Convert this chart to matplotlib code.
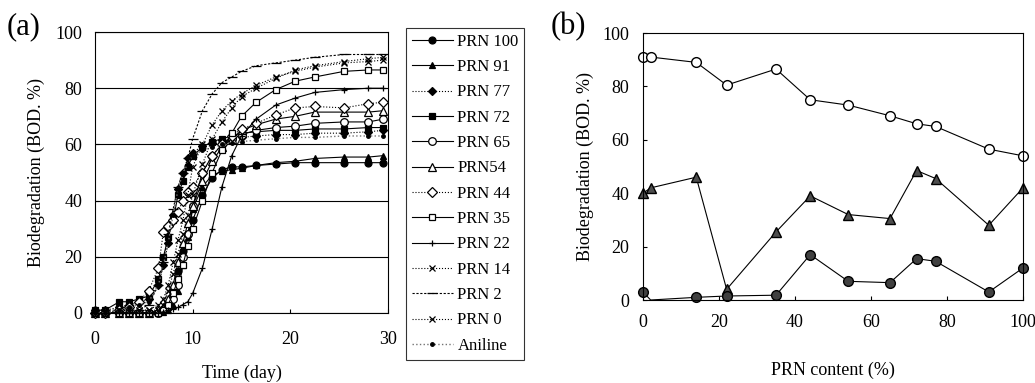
import numpy as np
import matplotlib
matplotlib.use('Agg')
import matplotlib.pyplot as plt

plt.rcParams['font.family'] = ['Liberation Serif', 'DejaVu Serif']
plt.rcParams['font.size'] = 13

# (a) 시간별 생분해도
days = [0, 1, 2.5, 3.5, 4.5, 5.5, 6.5, 7, 7.5, 8, 8.5, 9, 9.5, 10, 11, 12, 13,
        14, 15, 16.5, 18.5, 20.5, 22.5, 25.5, 28, 29.5]

prn100 = [0, 0, 0, 0, 0, 0, 0, 1, 3, 8, 15, 22, 28, 33, 42, 48, 51,
          52, 52, 52.5, 53, 53.5, 53.5, 53.5, 53.5, 53.5]
prn91 = [0, 0, 0, 0, 0, 0, 0, 0.5, 1, 3, 8, 17, 27, 37, 45, 49, 50.5,
         51, 51.5, 52.5, 53.5, 54, 55, 55.5, 55.5, 56]
prn77 = [1, 1, 2, 3, 4, 5, 10, 17, 25, 35, 44, 50, 55, 57, 59.5, 60.5, 61.5,
         62, 62.5, 63, 63.5, 63.5, 64, 64, 64.5, 65]
prn72 = [1, 1, 4, 4, 5, 6, 12, 20, 27, 33, 42, 47, 52, 56, 59, 61, 62,
         63, 64, 64.5, 65, 65, 65.5, 65.5, 66, 66]
prn65 = [0, 0, 0, 0, 0, 0, 0, 1, 2, 5, 10, 20, 28, 38, 50, 56, 60,
         62, 63.5, 65, 66, 66.5, 67.5, 68, 68, 69]
prn54 = [0, 0, 0, 0, 0, 0, 1, 2, 5, 10, 18, 25, 32, 38, 47, 54, 59,
         62, 65, 67, 69, 70, 71.5, 71.5, 71.5, 72]
prn44 = [0, 0, 1, 2, 4, 8, 16, 29, 31, 33, 36, 40, 43, 45, 50, 56, 60,
         63, 65.5, 67.5, 70.5, 73, 73.5, 73, 74.5, 75]
prn35 = [0, 0, 0, 0, 0, 0, 0, 1, 3, 7, 12, 17, 24, 30, 40, 50, 58,
         64, 70, 75, 79.5, 82.5, 84, 86, 86.5, 86.5]
prn22 = [0, 0, 0, 0, 0, 0, 0, 0.5, 1, 1.5, 2, 3, 4, 7, 16, 30, 45,
         56, 63, 69, 74, 76.5, 78.5, 79.5, 80, 80]
prn14 = [0, 0, 1, 1, 1, 1, 3, 5, 10, 18, 26, 33, 42, 52, 60, 67, 72,
         75.5, 78, 81, 84, 86, 87.5, 89, 89.5, 90]
prn2 = [0, 0, 0, 0, 1, 3, 10, 18, 28, 37, 45, 50, 55, 62, 72, 78, 82,
        84, 86, 88, 89, 90, 91, 92, 92, 92]
prn0 = [1, 1, 1, 1, 1, 1, 1, 3, 8, 14, 21, 28, 35, 42, 53, 62, 68,
        73, 77, 80, 83.5, 86.5, 88, 89.5, 90.5, 91]
aniline = [0, 0, 1, 2, 3, 4, 10, 17, 25, 35, 44, 50, 53, 56, 58, 59, 60,
           60.5, 61, 61.5, 62, 62.5, 62.5, 63, 63, 63]

# (b) PRN 함량별 생분해도
prn_content = [0, 2, 14, 22, 35, 44, 54, 65, 72, 77, 91, 100]
bod_open = [91, 91, 89, 80.5, 86.5, 75, 73, 69, 66, 65, 56.5, 54]
bod_tri = [40, 42, 46, 4, 25.5, 39, 32, 30.5, 48.5, 45.5, 28, 42]
bod_fill = [3, 0, 1, 1.5, 1.8, 17, 7, 6.5, 15.5, 14.5, 3, 12]

fig = plt.figure(figsize=(10.35, 3.83), dpi=100)
ax1 = fig.add_axes([0.0918, 0.1828, 0.2831, 0.7336])
ax2 = fig.add_axes([0.6213, 0.2167, 0.3671, 0.6971])

series = [
    (prn100, 'PRN 100', 'o', 'k', '-', 5),
    (prn91, 'PRN 91', '^', 'k', '-', 5),
    (prn77, 'PRN 77', 'D', 'k', ':', 4.5),
    (prn72, 'PRN 72', 's', 'k', '-', 4.5),
    (prn65, 'PRN 65', 'o', 'w', '-', 5.5),
    (prn54, 'PRN54', '^', 'w', '-', 5.5),
    (prn44, 'PRN 44', 'D', 'w', ':', 5),
    (prn35, 'PRN 35', 's', 'w', '-', 5),
    (prn22, 'PRN 22', '+', 'k', '-', 5),
    (prn14, 'PRN 14', 'x', 'k', ':', 5),
    (prn2, 'PRN 2', '_', 'k', (0, (2, 1.5)), 7),
    (prn0, 'PRN 0', 'x', 'k', ':', 4.5),
]
for vals, lab, mk, fc, ls, ms in series:
    ax1.plot(days, vals, linestyle=ls, color='k', lw=0.8, marker=mk,
             ms=ms, mfc=fc, mec='k', mew=0.9, label=lab, clip_on=False)
ax1.plot(days, aniline, linestyle=':', color='0.45', lw=1.0, marker='o',
         ms=2.5, mfc='k', mec='k', label='Aniline', clip_on=False)

ax1.set_xlim(0, 30)
ax1.set_ylim(0, 100)
ax1.set_xticks([0, 10, 20, 30])
ax1.set_yticks([0, 20, 40, 60, 80, 100])
ax1.yaxis.grid(True, color='k', lw=0.8)
ax1.tick_params(direction='in', length=3, labelsize=13)
ax1.tick_params(axis='x', pad=13)
ax1.tick_params(axis='y', pad=9)
ax1.set_xlabel('Time (day)', labelpad=12)
ax1.set_ylabel('Biodegradation (BOD. %)', labelpad=8)
for s in ax1.spines.values():
    s.set_linewidth(0.8)

leg = ax1.legend(loc='upper left', bbox_to_anchor=(0.392, 0.927),
                 bbox_transform=fig.transFigure, frameon=True, fancybox=False,
                 edgecolor='k', fontsize=12, handlelength=2.5,
                 handletextpad=0.25, labelspacing=0.56, borderpad=0.35,
                 borderaxespad=0)
leg.get_frame().set_linewidth(0.8)

# (b)
ax2.plot(prn_content, bod_open, '-', color='k', lw=0.8, marker='o', ms=7,
         mfc='w', mec='k', clip_on=False)
ax2.plot(prn_content, bod_tri, '-', color='k', lw=0.8, marker='^', ms=7,
         mfc='0.3', mec='k', clip_on=False)
ax2.plot(prn_content, bod_fill, '-', color='k', lw=0.8, marker='o', ms=7,
         mfc='0.25', mec='k', clip_on=False,
         markevery=[0, 2, 3, 4, 5, 6, 7, 8, 9, 10, 11])
ax2.set_xlim(0, 100)
ax2.set_ylim(0, 100)
ax2.set_xticks([0, 20, 40, 60, 80, 100])
ax2.set_yticks([0, 20, 40, 60, 80, 100])
ax2.tick_params(direction='in', length=3, labelsize=13, pad=10)
ax2.set_xlabel('PRN content (%)', labelpad=22)
ax2.set_ylabel('Biodegradation (BOD. %)', labelpad=6)
for s in ax2.spines.values():
    s.set_linewidth(0.8)

fig.text(0.006, 0.91, '(a)', fontsize=22)
fig.text(0.532, 0.91, '(b)', fontsize=22)

fig.savefig('out.png', dpi=100)
